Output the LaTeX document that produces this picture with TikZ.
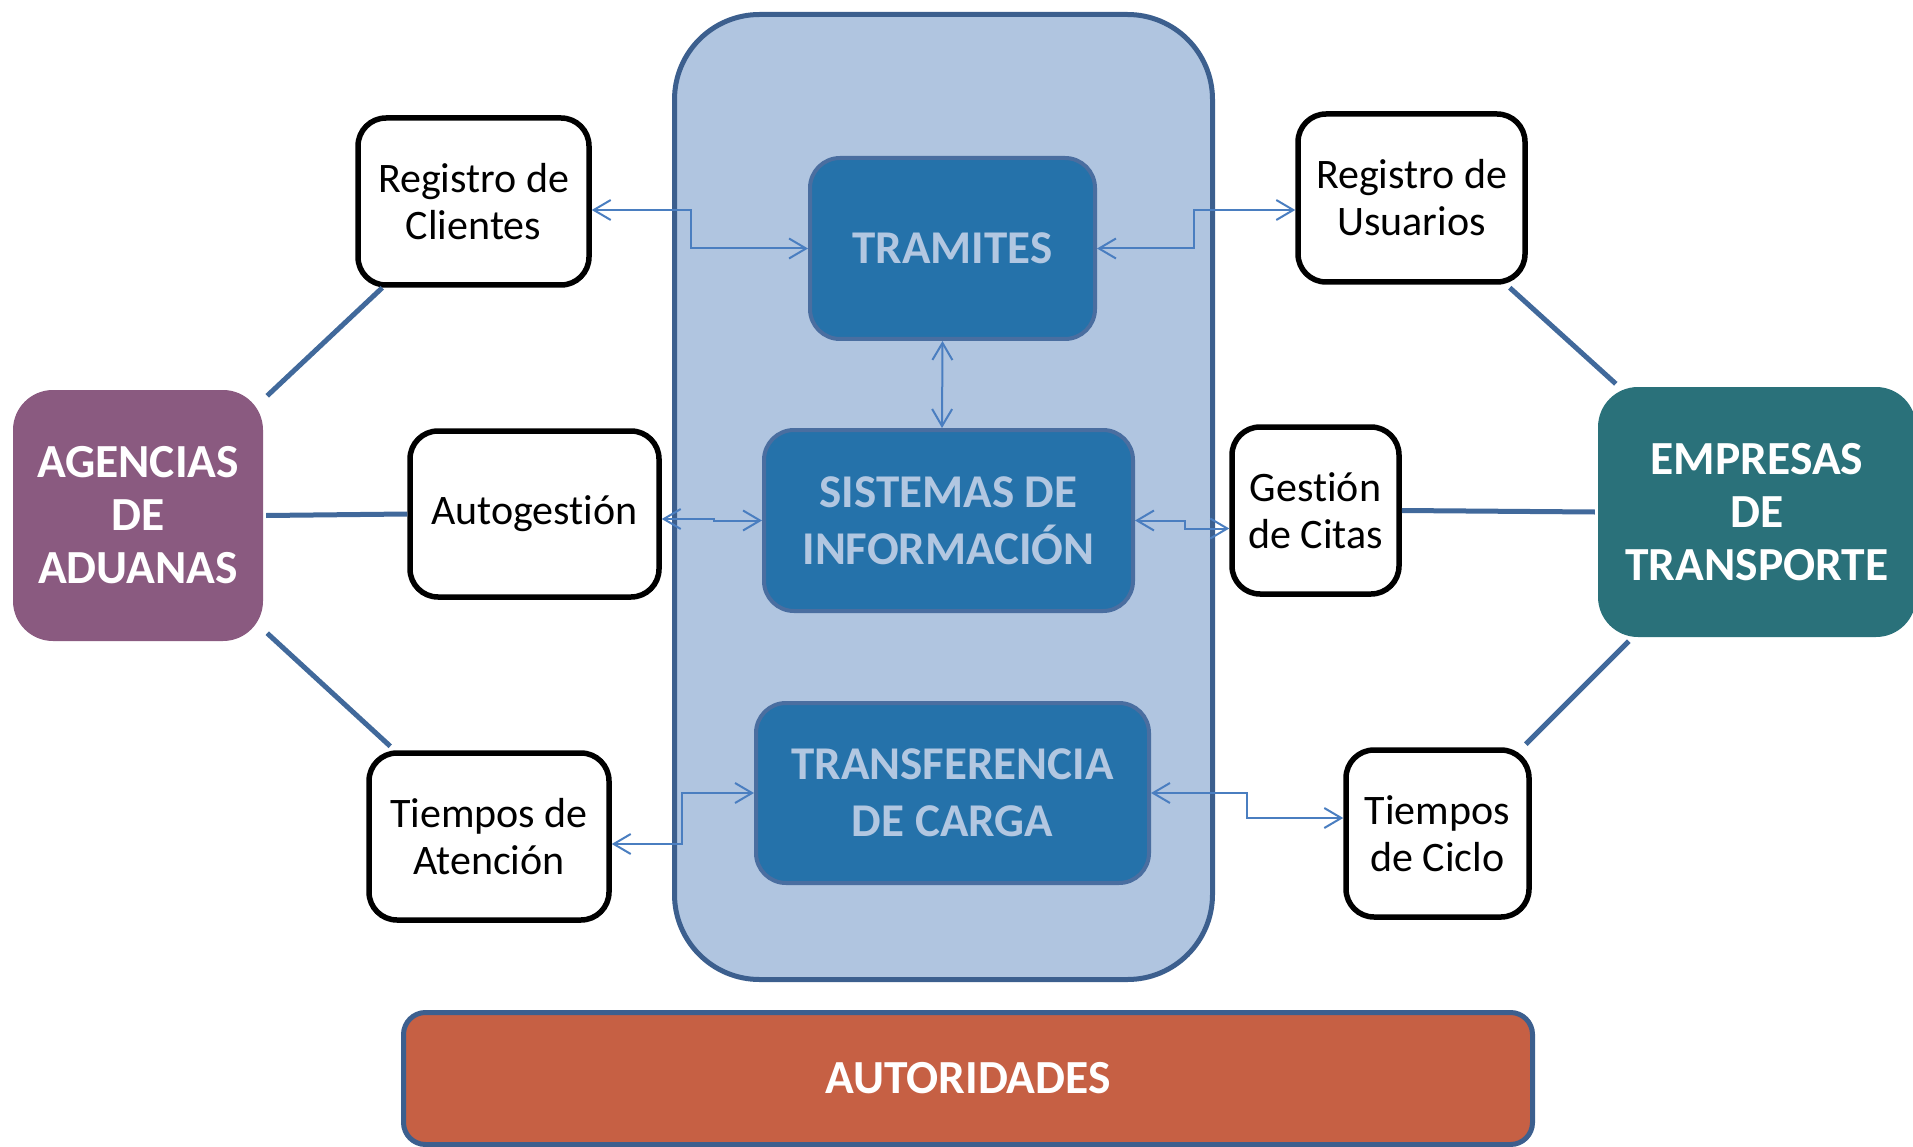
\documentclass[tikz,border=0pt]{standalone}
\usepackage{fontspec}
\setmainfont{Carlito}[Ligatures=NoCommon]
\usetikzlibrary{arrows.meta}

\definecolor{panelfill}{HTML}{B0C5E0}
\definecolor{panelline}{HTML}{3C5F8E}
\definecolor{innerfill}{HTML}{2572AA}
\definecolor{innerline}{HTML}{4A6EA0}
\definecolor{innertext}{HTML}{B2C7E1}
\definecolor{spokeblue}{HTML}{41699B}
\definecolor{arrowblue}{HTML}{4A7EC0}
\definecolor{agfill}{HTML}{8A5A80}
\definecolor{emfill}{HTML}{2A717A}
\definecolor{aufill}{HTML}{C66044}

\begin{document}
\begin{tikzpicture}[x=1pt, y=-1pt,
		whitebox/.style={draw=black, line width=5.5pt, fill=white, rounded corners=28pt,
			align=center, inner sep=0pt, font=\fontsize{42}{47}\selectfont},
		bluebox/.style={draw=innerline, line width=4pt, fill=innerfill, rounded corners=30pt,
			align=center, inner sep=0pt, text=innertext, font=\fontsize{47}{57}\selectfont\bfseries},
		actor/.style={fill=#1, rounded corners=40pt, align=center, inner sep=0pt,
			text=white, font=\fontsize{47.5}{53}\selectfont\bfseries},
		spoke/.style={draw=spokeblue, line width=5pt},
		link/.style={draw=arrowblue, line width=2pt,
			{Straight Barb[length=17pt,width=20pt]}-{Straight Barb[length=17pt,width=20pt]}},
	]
	\useasboundingbox (0,0) rectangle (1913,1147);

	\node[draw=panelline, line width=5pt, fill=panelfill, rounded corners=85pt,
			minimum width=538pt, minimum height=965pt,
		] (pan) at (943.5,497) {};

	\node[bluebox, minimum width=285pt, minimum height=181pt] (tr) at (952.5,248.5) {TRAMITES};
	\node[bluebox, minimum width=369pt, minimum height=181pt] (si) at (948.5,520.5) {SISTEMAS DE\\INFORMACIÓN};
	\node[bluebox, minimum width=393pt, minimum height=180pt] (tf) at (952.5,793) {TRANSFERENCIA\\DE CARGA};

	\node[whitebox, minimum width=231pt, minimum height=167pt] (cl) at (473.5,201.5) {Registro de\\Clientes};
	\node[whitebox, minimum width=249pt, minimum height=166pt] (au) at (534.5,514) {Autogestión};
	\node[whitebox, minimum width=240pt, minimum height=167pt] (at) at (489,836.5) {Tiempos de\\Atención};
	\node[whitebox, minimum width=227pt, minimum height=168pt] (us) at (1411.5,198) {Registro de\\Usuarios};
	\node[whitebox, minimum width=167pt, minimum height=167pt] (ci) at (1315.5,510.5) {Gestión\\de Citas};
	\node[whitebox, minimum width=183pt, minimum height=167pt] (cy) at (1437.5,833.5) {Tiempos\\de Ciclo};

	\node[actor=agfill, minimum width=250pt, minimum height=251pt] (ag) at (138,515.5) {AGENCIAS\\DE\\ADUANAS};
	\node[actor=emfill, minimum width=318pt, minimum height=250pt] (em) at (1757,512) {EMPRESAS\\DE\\TRANSPORTE};

	\node[draw=panelline, line width=5pt, fill=aufill, rounded corners=22pt,
			minimum width=1129pt, minimum height=132pt, inner sep=0pt,
			text=white, font=\fontsize{47.5}{53}\selectfont\bfseries,
		] (ad) at (968,1078.5) {AUTORIDADES};

	\draw[spoke] ([shift={(4,6)}]ag.north east) to ([shift={(27,0)}]cl.south west);
	\draw[spoke] ([xshift=3pt]ag.east) to (au.west);
	\draw[spoke] ([shift={(4,-8)}]ag.south east) to ([shift={(24,-4)}]at.north west);
	\draw[spoke] ([shift={(-18,3)}]us.south east) to ([shift={(18,-3)}]em.north west);
	\draw[spoke] (ci.east) to ([xshift=-3pt]em.west);
	\draw[spoke] ([shift={(-6,-3)}]cy.north east) to ([shift={(31,4)}]em.south west);

	\draw[link] (tr.west) -- ++(-117,0) |- ([yshift=-8.5pt]cl.east);
	\draw[link] (tr.east) -- ++(97,0) |- ([yshift=-12pt]us.west);
	\draw[link] ([xshift=-10pt]tr.south) -- ([xshift=-6.5pt]si.north);
	\draw[link] (si.west) -- ++(-48,0) |- ([yshift=-5pt]au.east);
	\draw[link] (si.east) -- ++(50,0) |- ([yshift=-18pt]ci.west);
	\draw[link] (tf.west) -- ++(-72,0) |- ([yshift=-7.5pt]at.east);
	\draw[link] (tf.east) -- ++(96,0) |- ([yshift=15.5pt]cy.west);
\end{tikzpicture}
\end{document}
